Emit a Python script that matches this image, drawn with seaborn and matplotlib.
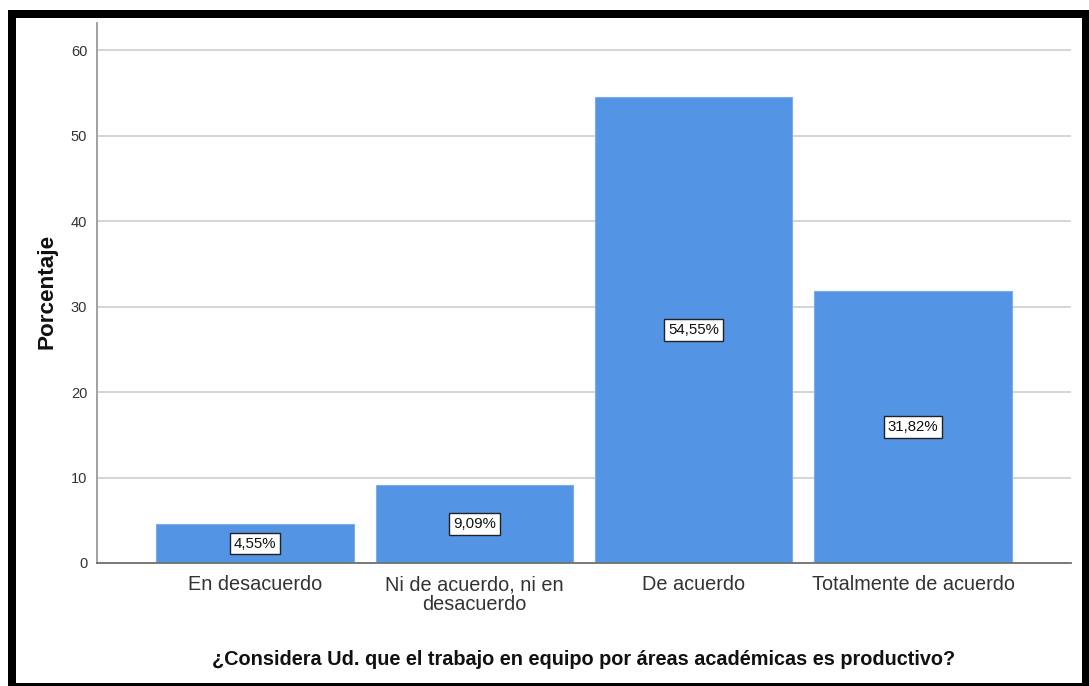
import matplotlib
matplotlib.use("Agg")
import matplotlib.pyplot as plt
from matplotlib.patches import Rectangle
import seaborn as sns
import pandas as pd

# Survey answers and their share of respondents (%)
categories = ["En desacuerdo", "Ni de acuerdo, ni en\ndesacuerdo", "De acuerdo", "Totalmente de acuerdo"]
percentages = [4.55, 9.09, 54.55, 31.82]
y_ticks = [0, 10, 20, 30, 40, 50, 60]
x_title = "¿Considera Ud. que el trabajo en equipo por áreas académicas es productivo?"
y_title = "Porcentaje"

sns.set_theme(style="white")
plt.rcParams["font.family"] = ["Liberation Sans Narrow", "Liberation Sans", "DejaVu Sans"]

df = pd.DataFrame({"respuesta": categories, "porcentaje": percentages})

fig = plt.figure(figsize=(10.89, 6.86), dpi=100)
fig.patch.set_facecolor("white")
ax = fig.add_axes([97 / 1089, 123 / 686, 974 / 1089, 540 / 686])

bar_color = "#5394E4"
sns.barplot(data=df, x="respuesta", y="porcentaje", color=bar_color, width=0.9,
            saturation=1, edgecolor="#7AAEEB", linewidth=0.8, ax=ax, zorder=3)

ax.set_xlim(-0.72, 3.72)
ax.set_ylim(0, 63.2)
ax.set_yticks(y_ticks)
ax.yaxis.grid(True, color="#D4D4D4", linewidth=1.4, zorder=0)
ax.xaxis.grid(False)
ax.set_axisbelow(True)

for side in ["top", "right"]:
    ax.spines[side].set_visible(False)
ax.spines["left"].set_color("#9A9A9A")
ax.spines["left"].set_linewidth(1.3)
ax.spines["bottom"].set_color("#707070")
ax.spines["bottom"].set_linewidth(1.3)
ax.spines["left"].set_zorder(4)
ax.spines["bottom"].set_zorder(4)

ax.tick_params(axis="y", length=0, pad=7, labelsize=10.5, labelcolor="#333333")
ax.tick_params(axis="x", length=0, pad=9, labelsize=14.3, labelcolor="#333333")
for lbl in ax.get_xticklabels():
    lbl.set_linespacing(1.05)

ax.set_xlabel(x_title, fontsize=14.3, fontweight="bold", color="#111111")
ax.xaxis.set_label_coords(0.5, -0.178)
ax.xaxis.label.set_va("center")
ax.set_ylabel(y_title, fontsize=16.2, fontweight="bold", color="#111111")
ax.yaxis.set_label_coords(-0.0513, 0.502)
ax.yaxis.label.set_va("center")

labels = [f"{v:.2f}".replace(".", ",") + "%" for v in percentages]
ax.bar_label(ax.containers[0], labels=labels, label_type="center", fontsize=10.8,
             color="#111111", zorder=5,
             bbox=dict(boxstyle="square,pad=0.25", facecolor="white",
                       edgecolor="#222222", linewidth=1.0))

# Black frame around the chart
W, H = 1089, 686
def px_rect(x0, y0, x1, y1):
    fig.add_artist(Rectangle((x0 / W, 1 - y1 / H), (x1 - x0) / W, (y1 - y0) / H,
                             transform=fig.transFigure, facecolor="black",
                             edgecolor="none", zorder=10))

px_rect(8, 10, 1089, 18)
px_rect(8, 10, 16, 686)
px_rect(1082, 10, 1089, 686)
px_rect(8, 683, 1089, 686)

fig.savefig("out.png", dpi=100)
